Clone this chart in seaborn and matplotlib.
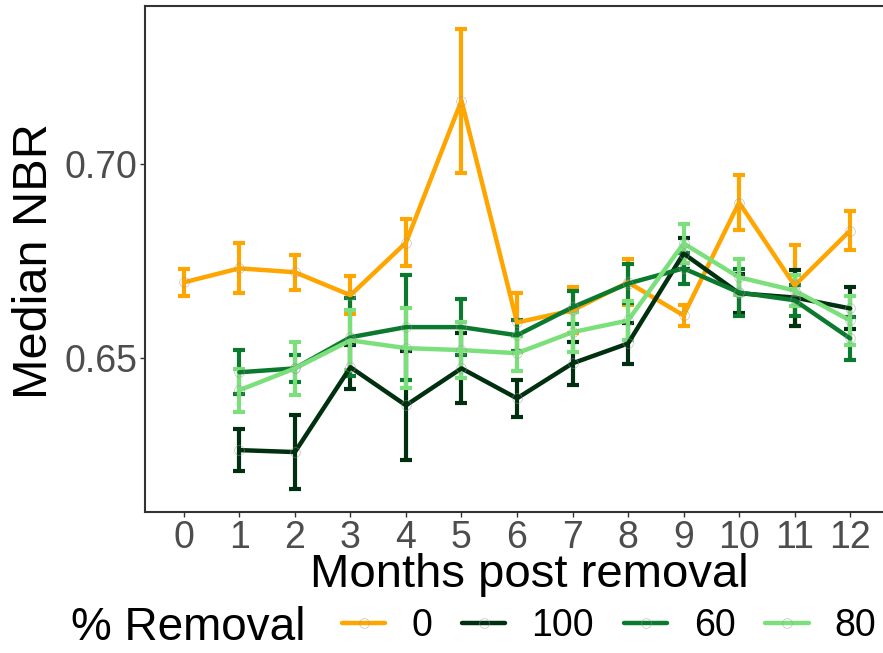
import numpy as np
import pandas as pd
import matplotlib
matplotlib.use("Agg")
import matplotlib.pyplot as plt
from matplotlib.lines import Line2D
import seaborn as sns

# Months since removal
months = list(range(13))

# Median NBR per removal treatment (NaN where no observation)
nbr_0 = [0.6695, 0.6731, 0.6721, 0.6662, 0.6797, 0.7162, 0.6592, 0.6623, 0.6695, 0.6610, 0.6900, 0.6687, 0.6828]
nbr_100 = [np.nan, 0.6264, 0.6259, 0.6477, 0.6379, 0.6474, 0.6397, 0.6487, 0.6538, 0.6769, 0.6667, 0.6656, 0.6628]
nbr_60 = [np.nan, 0.6464, 0.6474, 0.6554, 0.6580, 0.6580, 0.6559, 0.6631, 0.6692, 0.6731, 0.6669, 0.6649, 0.6551]
nbr_80 = [np.nan, 0.6418, 0.6474, 0.6546, 0.6526, 0.6521, 0.6513, 0.6567, 0.6597, 0.6795, 0.6708, 0.6674, 0.6597]

# Standard errors (half-height of the error bars)
se_0 = [0.0035, 0.0064, 0.0045, 0.0049, 0.0060, 0.0185, 0.0075, 0.0059, 0.0059, 0.0027, 0.0071, 0.0103, 0.0051]
se_100 = [np.nan, 0.0053, 0.0095, 0.0057, 0.0140, 0.0090, 0.0047, 0.0055, 0.0052, 0.0040, 0.0050, 0.0072, 0.0054]
se_60 = [np.nan, 0.0056, 0.0035, 0.0100, 0.0135, 0.0071, 0.0040, 0.0042, 0.0050, 0.0040, 0.0060, 0.0040, 0.0055]
se_80 = [np.nan, 0.0055, 0.0069, 0.0077, 0.0103, 0.0072, 0.0045, 0.0051, 0.0051, 0.0051, 0.0046, 0.0040, 0.0062]

groups = ["0", "100", "60", "80"]
palette = {"0": "#FFA500", "100": "#00300F", "60": "#0B7A2E", "80": "#7BE07B"}
marker_edge = (0.6, 0.6, 0.6, 0.6)

frames = []
for g, vals, ses in zip(groups, [nbr_0, nbr_100, nbr_60, nbr_80], [se_0, se_100, se_60, se_80]):
    frames.append(pd.DataFrame({"month": months, "nbr": vals, "se": ses, "removal": g}))
df = pd.concat(frames, ignore_index=True).dropna()

sns.set_style("white")
plt.rcParams["font.family"] = ["Liberation Sans", "DejaVu Sans"]

fig = plt.figure(figsize=(8.83, 6.53), dpi=100)
ax = fig.add_axes([145 / 883, 1 - 512 / 653, 744 / 883, 506 / 653])

# error bars first, then the connecting lines
for g in groups:
    d = df[df["removal"] == g]
    ax.errorbar(d["month"], d["nbr"], yerr=d["se"], fmt="none", ecolor=palette[g],
                elinewidth=3.0, capsize=4, capthick=3.0, zorder=2)

sns.lineplot(data=df, x="month", y="nbr", hue="removal", hue_order=groups,
             palette=palette, linewidth=3.2, marker="o", markersize=7,
             markerfacecolor="none", markeredgecolor=marker_edge, markeredgewidth=0.5,
             ax=ax, legend=False, errorbar=None, zorder=3)

ax.set_xlim(-0.70, 12.70)
ax.set_ylim(0.6105, 0.7405)
ax.set_xticks(months)
ax.set_xticklabels([str(m) for m in months])
ax.set_yticks([0.65, 0.70])
ax.set_yticklabels(["0.65", "0.70"])
ax.tick_params(axis="both", which="both", length=3.5, width=1, color="#333333",
               labelcolor="#4D4D4D", labelsize=27, pad=2, bottom=True, left=True)
for sp in ax.spines.values():
    sp.set_visible(True)
    sp.set_color("#333333")
    sp.set_linewidth(1.5)
ax.set_xlabel("")
ax.set_ylabel("")

fig.text(529 / 883, 1 - 575 / 653, "Months post removal", ha="center", va="center",
         fontsize=34, color="black")
fig.text(35 / 883, 1 - 261 / 653, "Median NBR", ha="center", va="center",
         rotation=90, fontsize=35, color="black")
fig.text(71 / 883, 1 - 628 / 653, "% Removal", ha="left", va="center",
         fontsize=33, color="black")

handles = [Line2D([], [], color=palette[g], linewidth=3.2, marker="o", markersize=7,
                  markerfacecolor="none", markeredgecolor=marker_edge, markeredgewidth=0.5)
           for g in groups]
fig.legend(handles, groups, loc="center left", bbox_to_anchor=(342 / 883, 1 - 626 / 653),
           ncol=4, frameon=False, fontsize=27, labelcolor="black", handlelength=1.15,
           handletextpad=0.7, columnspacing=0.8, borderpad=0, borderaxespad=0)

fig.savefig("out.png", dpi=100)
